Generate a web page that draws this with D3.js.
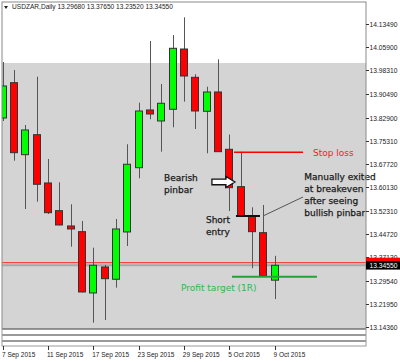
<!DOCTYPE html>
<html><head><meta charset="utf-8">
<script src="https://cdn.jsdelivr.net/npm/d3@7/dist/d3.min.js"></script>
<style>html,body{margin:0;padding:0;background:#fff;}svg{display:block;}</style>
</head><body>
<script>
const dates = ["7 Sep 2015","8 Sep 2015","9 Sep 2015","10 Sep 2015","11 Sep 2015","14 Sep 2015","15 Sep 2015","16 Sep 2015","17 Sep 2015","18 Sep 2015","21 Sep 2015","22 Sep 2015","23 Sep 2015","24 Sep 2015","25 Sep 2015","28 Sep 2015","29 Sep 2015","30 Sep 2015","1 Oct 2015","2 Oct 2015","5 Oct 2015","6 Oct 2015","7 Oct 2015","8 Oct 2015","9 Oct 2015"];
const open  = [13.8274,13.9429,13.7074,13.7728,13.6148,13.5242,13.4741,13.4555,13.2550,13.3400,13.2998,13.4545,13.6648,13.8536,13.8176,13.8559,14.0531,13.9605,13.8493,13.9125,13.7250,13.6027,13.5068,13.4522,13.2968];
const high  = [14.0106,13.9844,13.8045,13.9625,13.6933,13.6171,13.5451,13.4905,13.4031,13.3465,13.4970,13.7414,13.8775,14.0793,13.9386,14.0989,14.1568,13.9704,13.9298,14.0194,13.7734,13.7172,13.5353,13.5428,13.3765];
const low   = [13.8176,13.6877,13.5297,13.5536,13.5134,13.4758,13.4064,13.2566,13.1578,13.1666,13.2723,13.4087,13.6302,13.8232,13.7172,13.7970,13.8807,13.7914,13.7119,13.7172,13.5232,13.5068,13.3357,13.3100,13.2352];
const close = [13.9321,13.7139,13.7882,13.6105,13.5176,13.4774,13.4643,13.2582,13.3456,13.3017,13.4643,13.6760,13.8503,13.8405,13.8755,14.0554,13.9648,13.8503,13.9125,13.7172,13.5994,13.5078,13.4555,13.3106,13.3455];
const priceTicks = ["14.13490","14.05900","13.98310","13.90490","13.82900","13.75310","13.67720","13.60130","13.52310","13.44720","13.37130","13.29540","13.21950","13.14360"];
const dateTickIdx = [0,4,8,12,16,20,24];
const title = "USDZAR,Daily 13.29680 13.37650 13.23520 13.34550";
const bid = 13.3455, ask = 13.3540;
const greyZoneTop = 14.0073;
// annotations (index, price)
const stopLoss = {x0:20.41, x1:26.5, p:13.7152, label:"Stop loss", lx:27.38, lp:13.7015};
const profit = {x0:20.23, x1:27.73, p:13.3083, label:"Profit target (1R)", lx:15.73, lp:13.2599};
const entryLine = {x0:20.58, x1:22.7, p:13.5068};
const connector = {x0:22.97, p0:13.5068, x1:26.5, p1:13.5690};
const arrow = {x0:18.46, x1:20.49, p:13.6181};
const pinbarText = {x:14.23, lines:["Bearish","pinbar"], ps:[13.6197,13.5821]};
const entryText = {x:17.93, lines:["Short","entry"], ps:[13.4823,13.4447]};
const exitText = {x:26.61, lines:["Manually exited","at breakeven","after seeing","bullish pinbar"], ps:[13.6230,13.5837,13.5445,13.5052]};

const W=400,H=362, L=2, R=366, T=2, B=328.5;
const svg = d3.select("body").append("svg").attr("width",W).attr("height",H);
const x = d3.scaleLinear().domain([0,24]).range([2.8,274.7]);
const y = d3.scaleLinear().domain([13.1436,14.1349]).range([327,24]);

svg.append("defs").append("clipPath").attr("id","clip").append("rect")
  .attr("x",L).attr("y",T).attr("width",R-L).attr("height",B-T);

// grey zone
svg.append("rect").attr("x",L).attr("y",y(greyZoneTop)).attr("width",R-L).attr("height",B-y(greyZoneTop)).attr("fill","#d4d4d4");

const g = svg.append("g").attr("clip-path","url(#clip)");

// title
svg.append("path").attr("d","M4,6 L8,6 L6,9 Z").attr("fill","#222");
svg.append("text").attr("x",12).attr("y",9).attr("font-family","Liberation Sans").attr("font-size",6.6).attr("fill","#222").text(title);

// bid / ask lines
g.append("line").attr("x1",L).attr("x2",R).attr("y1",y(ask)).attr("y2",y(ask)).attr("stroke","#ff2020").attr("stroke-width",1);
g.append("line").attr("x1",L).attr("x2",R).attr("y1",y(bid)).attr("y2",y(bid)).attr("stroke","#a8a8a8").attr("stroke-width",2);

// candles
const idx = d3.range(dates.length);
const left = i => Math.round(x(i)-4);
g.selectAll("line.wick").data(idx).join("line").attr("class","wick")
  .attr("x1",i=>left(i)+4.5).attr("x2",i=>left(i)+4.5)
  .attr("y1",i=>y(high[i])).attr("y2",i=>y(low[i]))
  .attr("stroke","#555").attr("stroke-width",1);
g.selectAll("rect.body").data(idx).join("rect").attr("class","body")
  .attr("x",i=>left(i)+0.5).attr("width",7)
  .attr("y",i=>y(Math.max(open[i],close[i])))
  .attr("height",i=>Math.max(1,Math.abs(y(open[i])-y(close[i]))))
  .attr("fill",i=>close[i]>=open[i]?"#00ff00":"#ff0000")
  .attr("stroke","#333").attr("stroke-width",1);

// annotations
const font="DejaVu Sans";
g.append("line").attr("x1",x(stopLoss.x0)).attr("x2",x(stopLoss.x1)).attr("y1",y(stopLoss.p)).attr("y2",y(stopLoss.p)).attr("stroke","#ff0000").attr("stroke-width",1.5);
svg.append("text").attr("x",x(stopLoss.lx)).attr("y",y(stopLoss.lp)).attr("font-family",font).attr("font-size",9).attr("fill","#ee1c24").text(stopLoss.label);
g.append("line").attr("x1",x(profit.x0)).attr("x2",x(profit.x1)).attr("y1",y(profit.p)).attr("y2",y(profit.p)).attr("stroke","#22a33a").attr("stroke-width",2);
svg.append("text").attr("x",x(profit.lx)).attr("y",y(profit.lp)).attr("font-family",font).attr("font-size",9).attr("fill","#2db84b").text(profit.label);
g.append("line").attr("x1",x(entryLine.x0)).attr("x2",x(entryLine.x1)).attr("y1",y(entryLine.p)).attr("y2",y(entryLine.p)).attr("stroke","#111").attr("stroke-width",2);
g.append("line").attr("x1",x(connector.x0)).attr("x2",x(connector.x1)).attr("y1",y(connector.p0)).attr("y2",y(connector.p1)).attr("stroke","#555").attr("stroke-width",1);
// arrow
{
  const ax0=x(arrow.x0), ax1=x(arrow.x1), ay=y(arrow.p), hl=9, sh=2.8, hh=5.5;
  const d=`M${ax0},${ay-sh} L${ax1-hl},${ay-sh} L${ax1-hl},${ay-hh} L${ax1},${ay} L${ax1-hl},${ay+hh} L${ax1-hl},${ay+sh} L${ax0},${ay+sh} Z`;
  svg.append("path").attr("d",d).attr("fill","#fff").attr("stroke","#111").attr("stroke-width",1.3);
}
[pinbarText,entryText,exitText].forEach(t=>{
  t.lines.forEach((s,k)=>{
    svg.append("text").attr("x",x(t.x)).attr("y",y(t.ps[k])).attr("font-family",font).attr("font-size",9)
      .attr("fill","#1a1a1a").attr("stroke","#1a1a1a").attr("stroke-width",0.25).text(s);
  });
});

// frames
svg.append("rect").attr("x",L).attr("y",T).attr("width",R-L).attr("height",B-T).attr("fill","none").attr("stroke","#8a8a8a").attr("stroke-width",1);
[[329.5,334.5],[335.5,340.5],[341.5,346]].forEach(([a,b])=>{
  svg.append("rect").attr("x",L).attr("y",a).attr("width",R-L).attr("height",b-a).attr("fill","#fff").attr("stroke","#9a9a9a").attr("stroke-width",1);
});

// price axis
const small="Liberation Sans";
priceTicks.forEach(s=>{
  const v=+s, yy=Math.round(y(v))+0.5;
  svg.append("line").attr("x1",R).attr("x2",R+3).attr("y1",yy).attr("y2",yy).attr("stroke","#333");
  svg.append("text").attr("x",R+3.5).attr("y",yy+2.4).attr("font-family",small).attr("font-size",6.7).attr("fill","#222").text(s);
});
// ask/bid labels (ask label is covered by the bid label, as in the reference)
svg.append("rect").attr("x",R).attr("y",y(ask)-5).attr("width",W-R).attr("height",9).attr("fill","#ff0000");
svg.append("rect").attr("x",R).attr("y",y(bid)-4.3).attr("width",W-R).attr("height",8.6).attr("fill","#000");
svg.append("text").attr("x",R+3.5).attr("y",y(bid)+2.4).attr("font-family",small).attr("font-size",6.7).attr("fill","#fff").text(bid.toFixed(5));

// time axis
dateTickIdx.forEach(i=>{
  const xx=Math.round(x(i))+0.5;
  svg.append("line").attr("x1",Math.max(xx,L+0.5)).attr("x2",Math.max(xx,L+0.5)).attr("y1",346).attr("y2",350).attr("stroke","#333");
  svg.append("text").attr("x",Math.max(x(i)-1.2,2)).attr("y",357).attr("font-family",small).attr("font-size",6.5).attr("fill","#222").text(dates[i]);
});
</script>
</body></html>
